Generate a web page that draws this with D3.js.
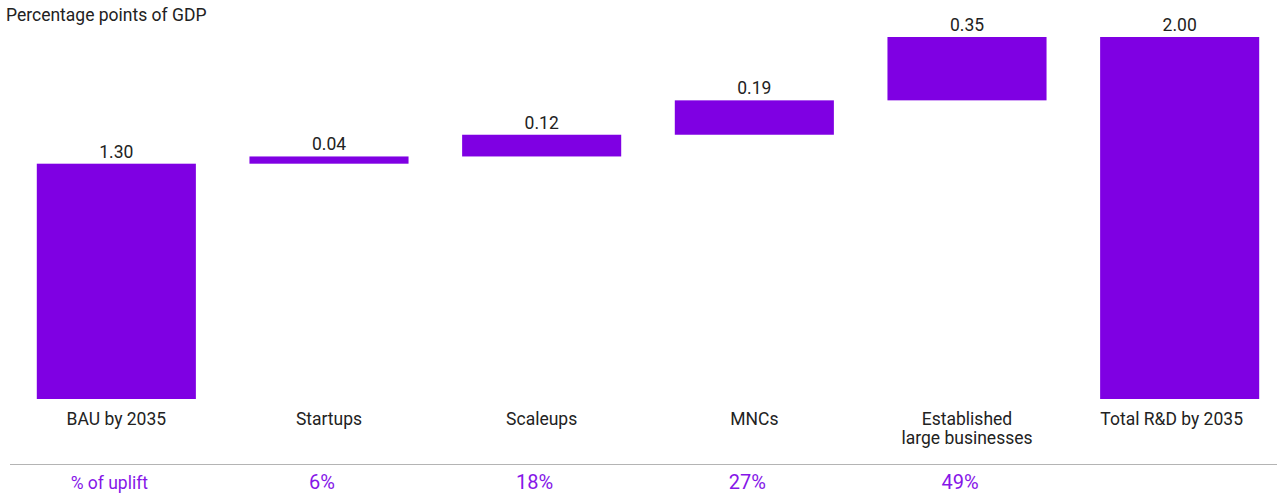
<!DOCTYPE html>
<html>
<head>
<meta charset="utf-8">
<script src="https://cdn.jsdelivr.net/npm/d3@7"></script>
<style>
  body { margin: 0; background: #fff; }
  text { font-family: Roboto, sans-serif; }
</style>
</head>
<body>
<svg id="chart" width="1277" height="493"></svg>
<script>
const categories = ['BAU by 2035', 'Startups', 'Scaleups', 'MNCs', 'Established\nlarge businesses', 'Total R&D by 2035'];
const values = [1.30, 0.04, 0.12, 0.19, 0.35, 2.00];
const isTotal = [true, false, false, false, false, true];
const uplift = ['', '6%', '18%', '27%', '49%', ''];

const svg = d3.select('#chart');
const purple = '#7f00e3';
const upliftColor = '#8616e8';

// waterfall start/end
let running = 0;
const data = categories.map((c, i) => {
  let y0, y1;
  if (isTotal[i]) {
    y0 = 0; y1 = values[i]; running = values[i];
  } else {
    y0 = running; y1 = running + values[i]; running = y1;
  }
  return { key: c, value: values[i], y0, y1, uplift: uplift[i] };
});

const xScale = d3.scaleBand()
  .domain(categories)
  .range([10, 1286])
  .paddingInner(0.252)
  .paddingOuter(0.126);
const yScale = d3.scaleLinear().domain([0, 2]).range([399, 37]);
const cx = (d) => xScale(d) + xScale.bandwidth() / 2;

// title
svg.append('text')
  .attr('x', 6)
  .attr('y', 21)
  .attr('font-size', '17.5px')
  .attr('fill', '#222')
  .text('Percentage points of GDP');

// bars
svg.selectAll('.bar')
  .data(data)
  .enter()
  .append('rect')
  .attr('class', 'bar')
  .attr('x', (d) => xScale(d.key))
  .attr('width', xScale.bandwidth())
  .attr('y', (d) => yScale(d.y1))
  .attr('height', (d) => yScale(d.y0) - yScale(d.y1))
  .attr('fill', purple);

// value labels
svg.selectAll('.val')
  .data(data)
  .enter()
  .append('text')
  .attr('class', 'val')
  .attr('x', (d) => cx(d.key))
  .attr('y', (d) => yScale(d.y1) - 6)
  .attr('text-anchor', 'middle')
  .attr('font-size', '17.5px')
  .attr('fill', '#222')
  .text((d) => d.value.toFixed(2));

// category labels (last one sits a bit left of its bar centre)
const catX = (d, i) => cx(d.key) - (i === categories.length - 1 ? 8 : 0);
const cat = svg.selectAll('.cat')
  .data(data)
  .enter()
  .append('text')
  .attr('class', 'cat')
  .attr('x', catX)
  .attr('y', 425)
  .attr('text-anchor', 'middle')
  .attr('font-size', '17.5px')
  .attr('fill', '#222');
cat.each(function (d, j) {
  const t = d3.select(this);
  d.key.split('\n').forEach((l, i) => {
    t.append('tspan')
      .attr('x', catX(d, j))
      .attr('dy', i === 0 ? 0 : 19)
      .text(l);
  });
});

// separator
svg.append('line')
  .attr('x1', 10)
  .attr('x2', 1277)
  .attr('y1', 464.5)
  .attr('y2', 464.5)
  .attr('stroke', '#b4b4b4')
  .attr('stroke-width', 1);

// uplift row
svg.append('text')
  .attr('x', cx(categories[0]) - 7)
  .attr('y', 489)
  .attr('text-anchor', 'middle')
  .attr('font-size', '17.5px')
  .attr('fill', upliftColor)
  .text('% of uplift');

svg.selectAll('.up')
  .data(data.filter((d) => d.uplift))
  .enter()
  .append('text')
  .attr('class', 'up')
  .attr('x', (d) => cx(d.key) - 7)
  .attr('y', 489)
  .attr('text-anchor', 'middle')
  .attr('font-size', '20px')
  .attr('fill', upliftColor)
  .text((d) => d.uplift);
</script>
</body>
</html>
